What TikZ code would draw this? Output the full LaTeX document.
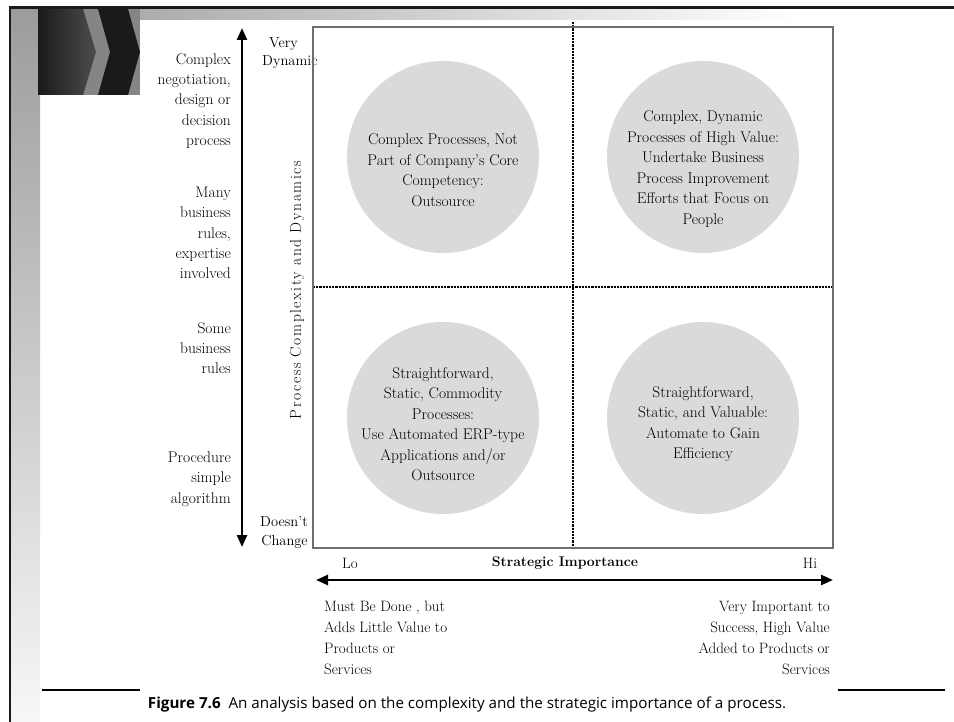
\documentclass[tikz,border=0pt]{standalone}
\usepackage{fontspec}
\newfontfamily\capfont{Open Sans}
\newfontfamily\spreadfont[LetterSpace=10]{Latin Modern Roman}
\usetikzlibrary{arrows.meta}
\definecolor{blob}{HTML}{DADADA}
\definecolor{edge}{HTML}{6E6E6E}
\definecolor{slate}{HTML}{9C9C9C}
\definecolor{ink}{HTML}{1A1A1A}
\definecolor{smoke}{HTML}{858585}

\begin{document}
\begin{tikzpicture}[x=1pt, y=-1pt,
  quad/.style={circle, fill=blob, minimum size=192pt, inner sep=0pt},
  blurb/.style={align=center, inner sep=0pt, font=\fontsize{15.5}{20.5}\selectfont},
  side/.style={align=right, anchor=east, inner sep=0pt, font=\fontsize{15.5}{20.3}\selectfont},
  foot/.style={inner sep=0pt, font=\fontsize{15}{21}\selectfont},
  axis/.style={line width=2.4pt, {Triangle[length=12pt,width=10pt]}-{Triangle[length=12pt,width=10pt]}},
  divider/.style={line width=2.2pt, densely dotted}]

  \useasboundingbox (0,0) rectangle (954,722);
  \fill[white] (0,0) rectangle (954,722);

  \shade[left color=slate, right color=white] (11,9) rectangle (800,20);
  \shade[top color=slate, bottom color=white!97!black] (11,9) rectangle (40,722);
  \draw[line width=2.5pt, ink] (10,722) -- (10,7.5) -- (954,7.5);

  \fill[smoke] (38,9) rectangle (140,95);
  \shade[left color=ink, right color=black!70] (38,9) -- (83,9) -- (96,52) -- (83,95) -- (38,95) -- cycle;
  \fill[ink] (98,9) -- (128,9) -- (140,52) -- (128,95) -- (98,95) -- (110,52) -- cycle;

  \node[quad] (q1) at (443,157) {};
  \node[quad] (q2) at (703,157) {};
  \node[quad] (q3) at (443,418) {};
  \node[quad] (q4) at (703,418) {};

  \node[blurb] (t1) at (443,170) {Complex Processes, Not\\Part of Company's Core\\Competency:\\Outsource};
  \node[blurb] (t2) at (703,169) {Complex, Dynamic\\Processes of High Value:\\Undertake Business\\Process Improvement\\Efforts that Focus on\\People};
  \node[blurb] (t3) at (443,424) {Straightforward,\\Static, Commodity\\Processes:\\Use Automated ERP-type\\Applications and/or\\Outsource};
  \node[blurb] (t4) at (703,424) {Straightforward,\\Static, and Valuable:\\Automate to Gain\\Efficiency};

  \draw[divider] (573,22) -- (573,548);
  \draw[divider] (313,287) -- (833,287);

  \node[side] (l1) at (231,101) {Complex\\negotiation,\\design or\\decision\\process};
  \node[side] (l2) at (231,233) {Many\\business\\rules,\\expertise\\involved};
  \node[side] (l3) at (231,348) {Some\\business\\rules};
  \node[side] (l4) at (231,479) {Procedure\\simple\\algorithm};

  \node[align=left, anchor=west, inner sep=0pt, font=\fontsize{14.5}{18}\selectfont] (top) at (262,53) {\hspace*{7pt}Very\\Dynamic};
  \node[align=right, anchor=east, inner sep=0pt, font=\fontsize{14.5}{19}\selectfont] (low) at (308,532) {Doesn't\\Change};
  \node[rotate=90, inner sep=0pt, font=\spreadfont\fontsize{15.5}{18}\selectfont] (ylab) at (297,290) {Process Complexity and Dynamics};

  \draw[edge, line width=1.6pt] (313,27) rectangle (833,548);

  \coordinate (ytop) at (242,28);
  \coordinate (ybot) at (242,547);
  \draw[axis] (ytop) -- (ybot);
  \coordinate (xlo) at (316,580);
  \coordinate (xhi) at (833,580);
  \draw[axis] (xlo) -- (xhi);

  \node[foot] (lo) at (350,563) {Lo};
  \node[foot, font=\fontsize{14}{18}\selectfont\bfseries] (xlab) at (565,563) {Strategic Importance};
  \node[foot] (hi) at (810,563) {Hi};

  \node[foot, align=left, anchor=west] (must) at (324,638) {Must Be Done , but\\Adds Little Value to\\Products or\\Services};
  \node[foot, align=right, anchor=east] (very) at (830,638) {Very Important to\\Success, High Value\\Added to Products or\\Services};

  \draw[line width=1.2pt] (42,690) -- (140,690);
  \draw[line width=1.2pt] (838,690) -- (945,690);
  \node[inner sep=0pt, font=\capfont\fontsize{15.2}{17}\selectfont] (cap) at (467,705) {\textbf{Figure 7.6}\ \ An analysis based on the complexity and the strategic importance of a process.};
\end{tikzpicture}
\end{document}
